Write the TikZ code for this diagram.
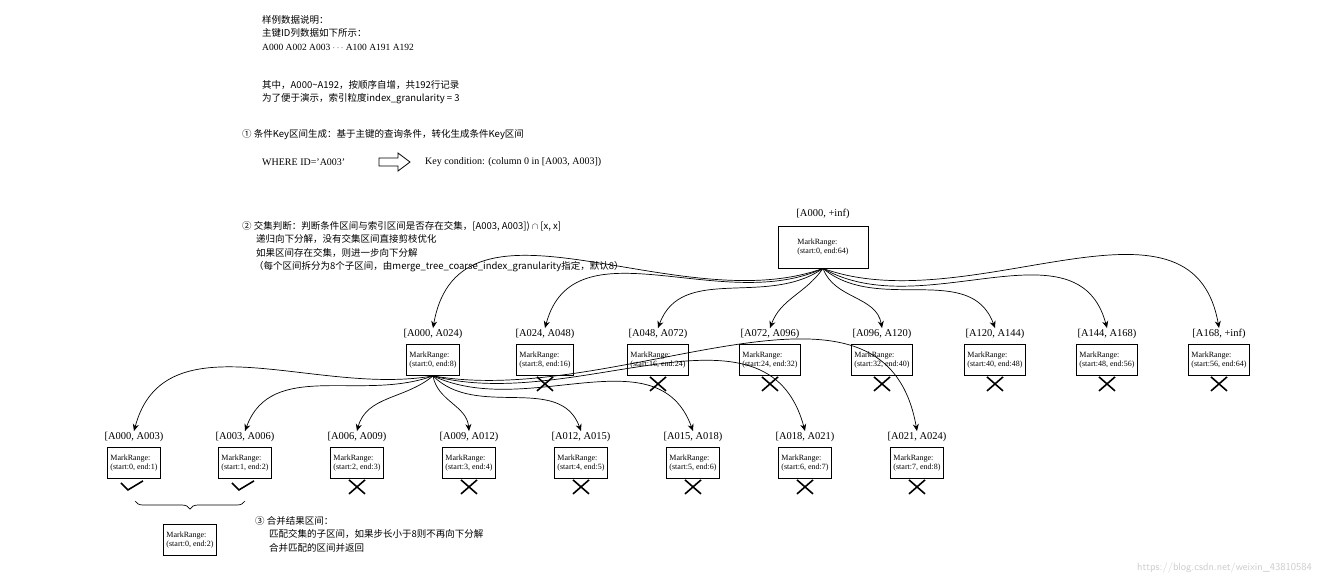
\documentclass[tikz,border=0pt]{standalone}
\usepackage{fontspec}
\setmainfont{Liberation Serif}
\newfontfamily\cjk{Noto Sans CJK SC}
\usetikzlibrary{arrows.meta,decorations.pathreplacing}
\begin{document}
\begin{tikzpicture}[x=1pt,y=-1pt,
  mr/.style={draw,line width=0.8pt,inner sep=3pt,align=left,font=\fontsize{8}{9}\selectfont},
  lab/.style={font=\fontsize{10.5}{11}\selectfont,inner sep=1pt},
  txt/.style={anchor=west,align=left,font=\cjk\fontsize{9.5}{13.5}\selectfont,inner sep=0pt},
  arr/.style={-{Stealth[length=7pt,width=6pt]},line width=0.7pt},
  mk/.style={line width=1.6pt}]
\useasboundingbox (0,0) rectangle (1322,587);
\fill[white] (0,0) rectangle (1322,587);
% text blocks
\node[txt,anchor=north west] (t1) at (262,15) {样例数据说明：\\主键ID列数据如下所示：\\{\rmfamily A000 A002 A003 $\cdots$ A100 A191 A192}};
\node[txt,anchor=north west] (t2) at (262,80) {其中，A000\textasciitilde A192，按顺序自增，共192行记录\\为了便于演示，索引粒度index\_granularity = 3};
\node[txt] (s1) at (242,135) {① 条件Key区间生成：基于主键的查询条件，转化生成条件Key区间};
\node[anchor=west,font=\fontsize{10}{12}\selectfont,inner sep=0pt] (w) at (262,162) {WHERE ID=’A003’};
\node[anchor=west,font=\fontsize{10}{12}\selectfont,inner sep=0pt] (kc) at (425,162) {Key condition: (column 0 in [A003, A003])};
\draw[line width=0.8pt] (379,158)--(398,158)--(398,153)--(410,162)--(398,171)--(398,166)--(379,166)--cycle;
\node[txt,anchor=north west] (s2) at (242,221) {② 交集判断：判断条件区间与索引区间是否存在交集，[A003, A003]) $\cap$ [x, x]\\
\hspace*{14pt}递归向下分解，没有交集区间直接剪枝优化\\
\hspace*{14pt}如果区间存在交集，则进一步向下分解\\
\hspace*{12pt}（每个区间拆分为8个子区间，由merge\_tree\_coarse\_index\_granularity指定，默认8）};
% root
\node[lab] (rl) at (823,214) {[A000, +inf)};
\node[mr,minimum width=90pt,minimum height=42pt] (r) at (823,247) {MarkRange:\\(start:0, end:64)};
% level 2
\foreach \i/\x/\a/\b/\s/\e in {1/433/A000/A024/0/8,2/545/A024/A048/8/16,3/658/A048/A072/16/24,4/770/A072/A096/24/32,5/882/A096/A120/32/40,6/995/A120/A144/40/48,7/1107/A144/A168/48/56,8/1219/A168/+inf/56/64}{
  \node[lab] (l\i) at (\x,334) {[\a, \b)};
  \node[mr,minimum height=31pt] (m\i) at (\x,360) {MarkRange:\\(start:\s, end:\e)};
}
\foreach \i in {2,...,8}{
  \draw[mk] ([xshift=-8pt,yshift=-1pt]m\i.south) -- ++(16,14) ([xshift=8pt,yshift=-1pt]m\i.south) -- ++(-16,14);
}
\draw[arr] (r.south) to[out=200,in=80] (l1.north);
\draw[arr] (r.south) to[out=205,in=75] (l2.north);
\draw[arr] (r.south) to[out=215,in=70] (l3.north);
\draw[arr] (r.south) to[out=235,in=70] (l4.north);
\draw[arr] (r.south) to[out=290,in=100] (l5.north);
\draw[arr] (r.south) to[out=320,in=110] (l6.north);
\draw[arr] (r.south) to[out=330,in=105] (l7.north);
\draw[arr] (r.south) to[out=340,in=100] (l8.north);
% level 3
\foreach \i/\x/\a/\b/\s/\e in {1/134/A000/A003/0/1,2/245/A003/A006/1/2,3/357/A006/A009/2/3,4/469/A009/A012/3/4,5/581/A012/A015/4/5,6/693/A015/A018/5/6,7/805/A018/A021/6/7,8/917/A021/A024/7/8}{
  \node[lab] (n\i) at (\x,437) {[\a, \b)};
  \node[mr,minimum height=31pt] (b\i) at (\x,463) {MarkRange:\\(start:\s, end:\e)};
}
\foreach \i in {3,...,8}{
  \draw[mk] ([xshift=-8pt,yshift=-1pt]b\i.south) -- ++(16,14) ([xshift=8pt,yshift=-1pt]b\i.south) -- ++(-16,14);
}
\foreach \i in {1,2}{
  \draw[mk] ([xshift=-13pt,yshift=-4pt]b\i.south) -- ++(7,7) -- ++(15,-9);
}
\draw[arr] (m1.south) to[out=190,in=75] (n1.north);
\draw[arr] (m1.south) to[out=200,in=70] (n2.north);
\draw[arr] (m1.south) to[out=220,in=75] (n3.north);
\draw[arr] (m1.south) to[out=280,in=95] (n4.north);
\draw[arr] (m1.south) to[out=315,in=110] (n5.north);
\draw[arr] (m1.south) to[out=335,in=110] (n6.north);
\draw[arr] (m1.south) to[out=345,in=105] (n7.north);
\draw[arr] (m1.south) to[out=350,in=100] (n8.north);
% merge
\coordinate (bl) at (135,501);
\coordinate (br) at (245,501);
\draw[line width=0.7pt,decorate,decoration={brace,mirror,amplitude=8pt}] (bl) -- (br);
\node[mr,minimum height=31pt] (f) at (190,540) {MarkRange:\\(start:0, end:2)};
\node[txt,anchor=north west] (s3) at (255,516) {③ 合并结果区间：\\
\hspace*{14pt}匹配交集的子区间，如果步长小于8则不再向下分解\\
\hspace*{14pt}合并匹配的区间并返回};
\node[anchor=east,font=\sffamily\fontsize{10.5}{12}\selectfont,text=black!20,inner sep=0pt] (wm) at (1312,568) {https://blog.csdn.net/weixin\_43810584};
\end{tikzpicture}
\end{document}
